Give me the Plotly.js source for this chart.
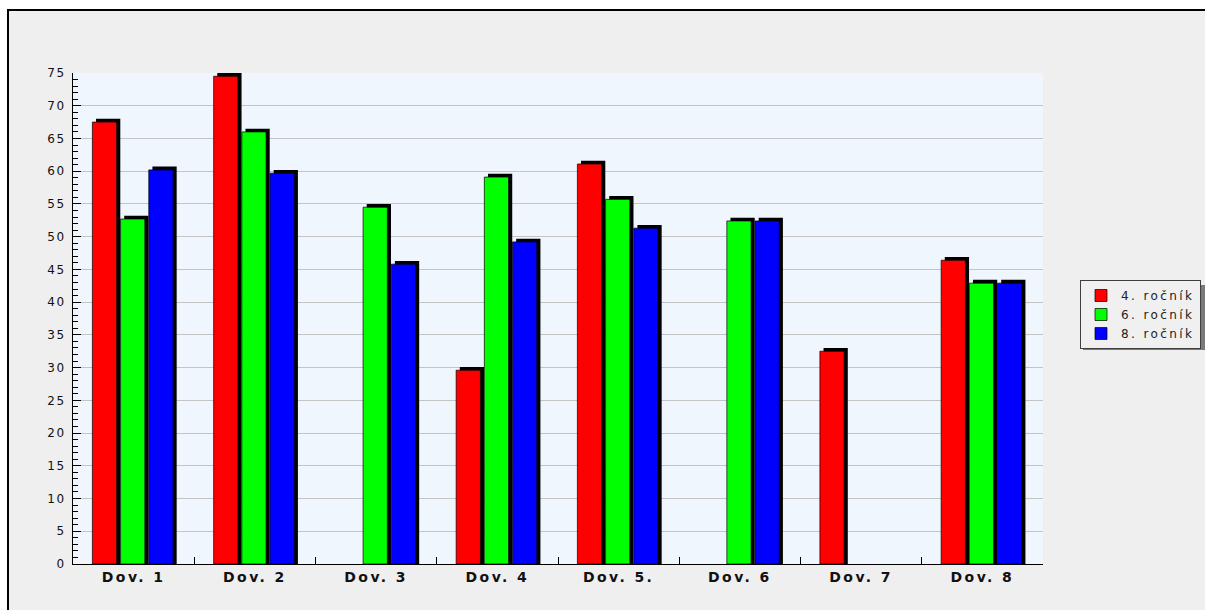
<!DOCTYPE html>
<html>
<head>
<meta charset="utf-8">
<script src="https://cdn.plot.ly/plotly-3.0.1.min.js"></script>
<style>
  html, body { margin: 0; padding: 0; background: #ffffff; overflow: hidden; }
  #wrap { position: relative; width: 1206px; height: 610px; }
  #chart { width: 1206px; height: 610px; }
  #frame { position: absolute; left: 7px; top: 9px; width: 1198px; height: 610px;
           border-left: 2px solid #000; border-top: 2px solid #000; pointer-events: none; box-sizing: border-box; z-index: 5; }
  .edge { position: absolute; left: 1205px; width: 1px; background: #ffffff; pointer-events: none; z-index: 6; }
  .side { position: absolute; left: 1194px; width: 11px; background: #efefef; pointer-events: none; z-index: 4; }
  .xtick text { letter-spacing: 2.4px; }
  .ytick text { letter-spacing: 1.5px; }
  .legendtext { letter-spacing: 2.4px; }
</style>
</head>
<body>
<div id="wrap">
<div id="chart"></div>
<div class="side" style="top:11px;height:264px;"></div>
<div class="side" style="top:356px;height:254px;"></div>
<div id="frame"></div>
<div class="edge" style="top:0;height:610px;"></div>
</div>
<script>
// ---- data ----
const categories = ["Dov. 1", "Dov. 2", "Dov. 3", "Dov. 4", "Dov. 5.", "Dov. 6", "Dov. 7", "Dov. 8"];
const seriesNames = ["4. ročník", "6. ročník", "8. ročník"];
const rocnik4 = [67.5, 74.5, null, 29.6, 61.1, null, 32.5, 46.4];
const rocnik6 = [52.7, 66.0, 54.5, 59.1, 55.7, 52.4, null, 42.9];
const rocnik8 = [60.2, 59.7, 45.8, 49.2, 51.3, 52.4, null, 42.9];
const yTicks = [0, 5, 10, 15, 20, 25, 30, 35, 40, 45, 50, 55, 60, 65, 70, 75];

// ---- styling ----
const colors = ["#ff0000", "#00ff00", "#0000ff"];
const offsets = [-0.34, -0.1075, 0.125];
const barWidth = 0.2;
const shadowDx = 0.03;   // category units
const shadowDy = 0.5;    // value units (visual 3D shadow)
const allSeries = [rocnik4, rocnik6, rocnik8];

const traces = [];
allSeries.forEach((vals, i) => {
  traces.push({
    type: "bar",
    x: categories,
    y: vals.map(v => v === null ? null : v + shadowDy),
    offset: offsets[i] + shadowDx,
    width: barWidth,
    marker: { color: "#000000", line: { width: 0 } },
    showlegend: false,
    hoverinfo: "skip"
  });
});
allSeries.forEach((vals, i) => {
  traces.push({
    type: "bar",
    name: seriesNames[i],
    x: categories,
    y: vals,
    offset: offsets[i],
    width: barWidth,
    marker: { color: colors[i], line: { width: 1, color: "rgba(0,0,0,0.7)" } }
  });
});

// pixel -> paper helpers (plot area: x 73..1043, y 73..564)
const px = p => (p - 73) / 970;
const py = p => (564 - p) / 491;

const layout = {
  width: 1206,
  height: 610,
  margin: { l: 73, r: 163, t: 73, b: 46, pad: 0, autoexpand: false },
  paper_bgcolor: "#efefef",
  plot_bgcolor: "#eff6fd",
  barmode: "overlay",
  font: { family: "DejaVu Sans, Verdana, sans-serif", color: "#222222" },
  xaxis: {
    type: "category",
    showgrid: false,
    zeroline: false,
    showline: true,
    linecolor: "#000000",
    linewidth: 1,
    ticks: "inside",
    tickson: "boundaries",
    ticklen: 7,
    tickcolor: "#000000",
    tickfont: { family: "DejaVu Sans, Verdana, sans-serif", size: 14, weight: "bold", color: "#111111" },
    fixedrange: true
  },
  yaxis: {
    range: [0, 75],
    tickmode: "array",
    tickvals: yTicks,
    ticktext: yTicks.map(String),
    showgrid: true,
    gridcolor: "#c4c4c4",
    gridwidth: 1,
    zeroline: false,
    showline: true,
    linecolor: "#000000",
    linewidth: 1,
    ticks: "inside",
    ticklen: 8,
    tickcolor: "#000000",
    minor: { dtick: 1, ticks: "inside", ticklen: 5, tickcolor: "#000000", showgrid: false },
    ticklabelstandoff: 4,
    tickfont: { family: "DejaVu Sans, Verdana, sans-serif", size: 12, color: "#111111" },
    fixedrange: true
  },
  legend: {
    x: px(1080),
    y: py(314.5),
    xanchor: "left",
    yanchor: "middle",
    bgcolor: "#f0f0f0",
    bordercolor: "#404040",
    borderwidth: 1,
    font: { family: "DejaVu Sans, Verdana, sans-serif", size: 12, color: "#222222" },
    itemclick: false,
    itemdoubleclick: false
  },
  shapes: [
    { type: "rect", xref: "paper", yref: "paper", x0: px(0), x1: px(7), y0: py(610), y1: py(0),
      fillcolor: "#ffffff", line: { width: 0 }, layer: "below" },
    { type: "rect", xref: "paper", yref: "paper", x0: px(0), x1: px(1206), y0: py(9), y1: py(0),
      fillcolor: "#ffffff", line: { width: 0 }, layer: "below" },
    // legend drop shadow
    { type: "rect", xref: "paper", yref: "paper", x0: px(1083), x1: px(1205), y0: py(350), y1: py(285),
      fillcolor: "#7a7a7a", line: { width: 0 }, layer: "above" }
  ]
};

Plotly.newPlot("chart", traces, layout, { displayModeBar: false, staticPlot: true });
</script>
</body>
</html>
